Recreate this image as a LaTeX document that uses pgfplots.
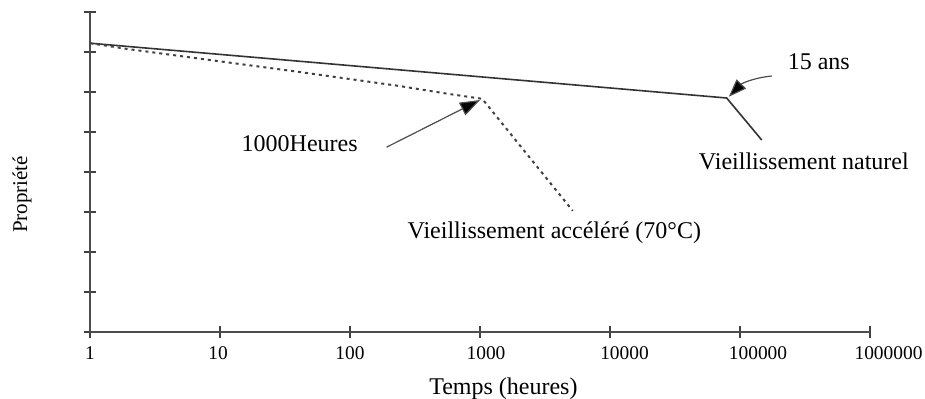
\documentclass[border=0pt]{standalone}
\usepackage{fontspec}
\setmainfont{Liberation Serif}
\usepackage{pgfplots}
\pgfplotsset{compat=1.18}
\usetikzlibrary{arrows.meta}
\begin{document}
\begin{tikzpicture}
\path[use as bounding box] (-45pt,-33pt) rectangle (417.5pt,166pt);
\begin{axis}[
  at={(0,0)}, anchor=south west,
  scale only axis, width=390pt, height=160pt,
  xmode=log, xmin=1, xmax=1000000, ymin=0, ymax=8,
  axis lines*=left,
  clip=false,
  xtick={1,10,100,1000,10000,100000,1000000},
  xticklabels={1,\hspace*{-2pt}10,100,\hspace*{6pt}1000,\hspace*{14.5pt}10000,\hspace*{18pt}100000,\hspace*{18.5pt}1000000},
  xminorticks=false,
  ytick={0,1,2,3,4,5,6,7,8}, yticklabels={},
  tick align=center, major tick length=6pt,
  tick style={black!75, line width=0.8pt},
  axis line style={black!70, line width=0.9pt},
  xticklabel style={font=\fontsize{9.7}{12}\selectfont, yshift=-1pt},
  xlabel={Temps (heures)},
  ylabel={Propriété},
  every axis x label/.style={at={(axis description cs:0.53,-0.177)}, anchor=center, font=\fontsize{12}{14}\selectfont},
  every axis y label/.style={at={(axis description cs:-0.087,0.43)}, anchor=center, rotate=90, font=\fontsize{10.5}{12}\selectfont},
]
\addplot[black!80, line width=0.8pt] coordinates {(1,7.22) (79000,5.85) (147000,4.8)};
\addplot[black!75, line width=1pt, dash pattern=on 1.5pt off 2pt] coordinates {(1,7.22) (1.9,7.08) (41,6.5) (240,6.15) (580,5.95) (1040,5.83) (5170,3.03)};
\node[font=\fontsize{12}{14}\selectfont] at (axis cs:41,4.72) {1000Heures};
\draw[black!70, line width=0.6pt, -{Triangle[length=10pt,width=7pt,fill=black]}] (axis cs:191,4.62) -- (axis cs:1000,5.8);
\node[font=\fontsize{12}{14}\selectfont] at (axis cs:404000,6.75) {15 ans};
\draw[black!70, line width=0.6pt, -{Triangle[length=9pt,width=6.5pt,fill=black]}] (axis cs:176000,6.4) to[bend right=20] (axis cs:82000,5.88);
\node[font=\fontsize{12}{14}\selectfont] at (axis cs:310000,4.27) {Vieillissement naturel};
\node[font=\fontsize{12}{14}\selectfont] at (axis cs:3730,2.47) {Vieillissement accéléré (70°C)};
\end{axis}
\end{tikzpicture}
\end{document}
